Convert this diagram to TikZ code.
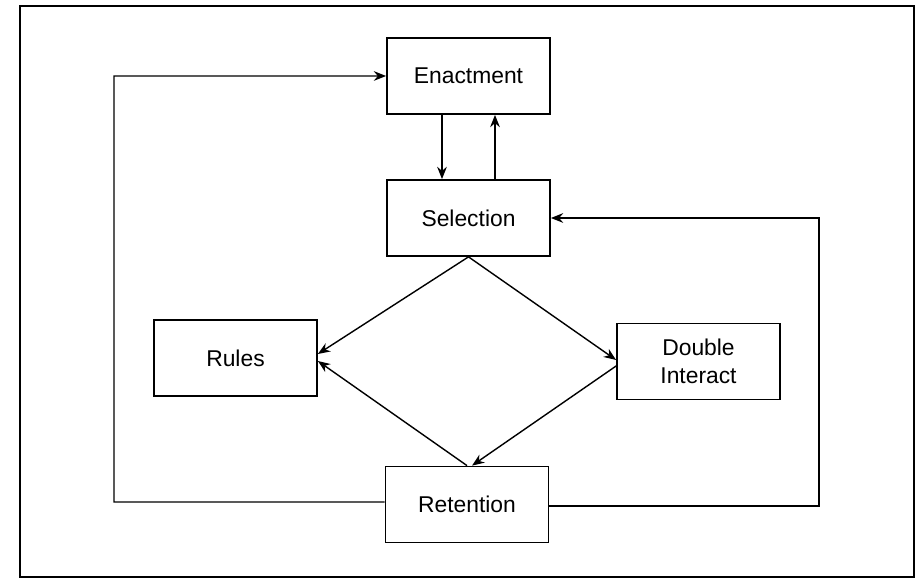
\documentclass[tikz,border=0pt]{standalone}
\usepackage{fontspec}
\setmainfont{Liberation Sans}
\usetikzlibrary{arrows.meta}

\begin{document}
\begin{tikzpicture}[
	>={Stealth[length=7pt, width=5.5pt]},
	stage/.style={draw, rectangle, line width=1pt, minimum width=3.26cm, minimum height=1.52cm, align=center, font=\fontsize{13}{16}\selectfont},
	flow/.style={->, line width=0.8pt}
]

	\useasboundingbox (0,0) rectangle (18.38,11.58);

	% Frame
	\draw[line width=1.1pt] (0.40,0.04) rectangle (18.28,11.46);

	% Stages
	\draw (9.37,10.06) node[stage] (enactment) {Enactment};
	\draw (9.37,7.22) node[stage] (selection) {Selection};
	\draw (4.71,4.42) node[stage] (rules) {Rules};
	\draw (13.97,4.35) node[stage] (double) {Double\\Interact};
	\draw (9.34,1.49) node[stage] (retention) {Retention};

	% Loop corners
	\coordinate (leftloop) at (2.28,1.54);
	\coordinate (rightloop) at (16.38,1.46);

	% Enactment <-> Selection
	\draw[flow] ([xshift=-0.53cm]enactment.south) -- ([xshift=-0.53cm]selection.north);
	\draw[flow] ([xshift=0.53cm]selection.north) -- ([xshift=0.53cm]enactment.south);

	% Diamond
	\draw[flow] (selection.south) -- ([yshift=0.08cm]rules.east);
	\draw[flow] (selection.south) -- ([yshift=0.03cm]double.west);
	\draw[flow] ([yshift=-0.09cm]double.west) -- ([xshift=0.1cm]retention.north);
	\draw[flow] (retention.north) -- ([yshift=-0.06cm]rules.east);

	% Feedback loops
	\draw[flow] ([yshift=0.05cm]retention.west) -- (leftloop) |- (enactment.west);
	\draw[flow] ([yshift=-0.03cm]retention.east) -- (rightloop) |- (selection.east);

\end{tikzpicture}
\end{document}
